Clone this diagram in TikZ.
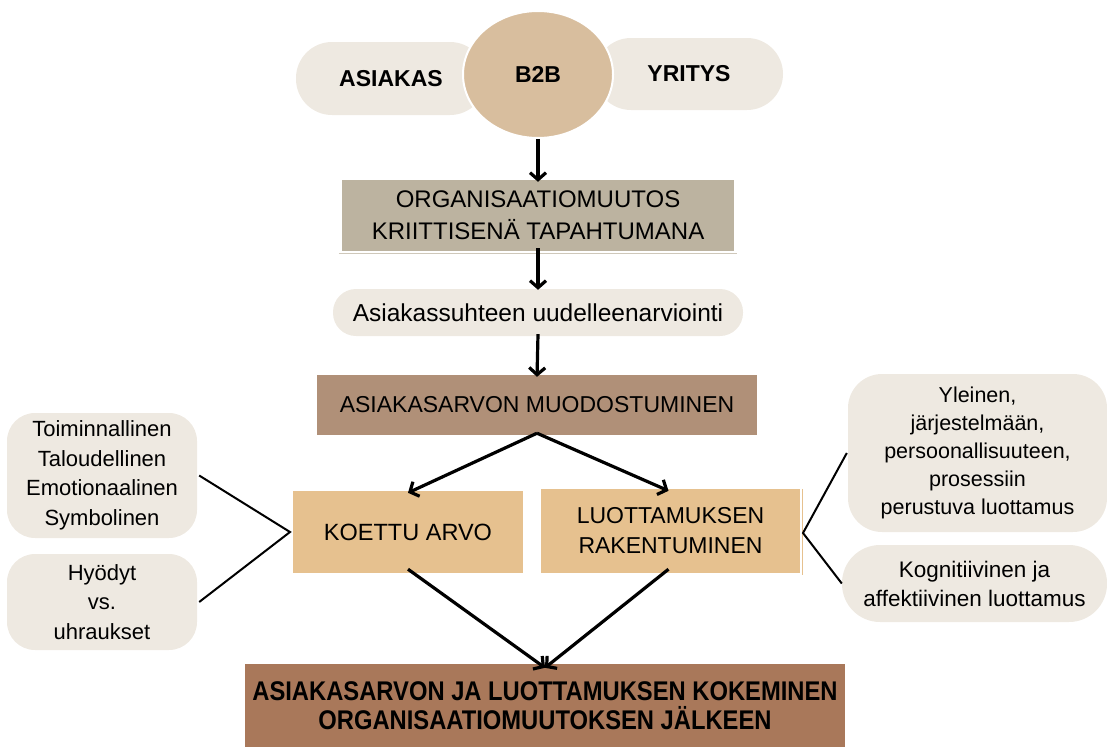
\documentclass[tikz,border=0pt]{standalone}
\usepackage{fontspec}
\setmainfont{Liberation Sans}
\newfontfamily\narrowfont[FakeStretch=0.88]{Liberation Sans}
\usetikzlibrary{arrows.meta,shapes.geometric}
\definecolor{pillc}{HTML}{EEE9E1}
\definecolor{circc}{HTML}{D8BE9E}
\definecolor{orgc}{HTML}{BCB3A0}
\definecolor{muodc}{HTML}{B09078}
\definecolor{koetc}{HTML}{E6C18F}
\definecolor{finc}{HTML}{A9785A}
\definecolor{linec}{HTML}{CFC8BA}
\begin{document}
\begin{tikzpicture}[x=1pt,y=-1pt,
  pill/.style={fill=pillc, rounded corners=#1, inner sep=0pt, align=center},
  plainbox/.style={fill=#1, inner sep=0pt, align=center},
  big/.style={font=\fontsize{23}{30}\selectfont},
  bigbold/.style={font=\bfseries\fontsize{23}{28}\selectfont},
  side/.style={font=\fontsize{22}{29.5}\selectfont},
  rside/.style={font=\fontsize{21.5}{28}\selectfont},
  arr/.style={line width=3.2pt, -{Straight Barb[length=7pt,width=16pt]}},
  conn/.style={line width=2pt}
]
\useasboundingbox (0,0) rectangle (1107,747);

% top row
\node[pill=36pt, minimum width=190pt, minimum height=73pt, bigbold] (asiakas) at (391,78.5) {ASIAKAS};
\node[pill=36pt, minimum width=188pt, minimum height=72pt, bigbold] (yritys) at (689,74) {YRITYS};
\node[ellipse, fill=circc, draw=white, line width=2pt, minimum width=150pt, minimum height=127pt, inner sep=0pt, bigbold] (b2b) at (538,74.5) {B2B};

% main column
\node[plainbox=orgc, minimum width=392pt, minimum height=71pt, big, font=\fontsize{24}{32}\selectfont] (org) at (538,215.5) {ORGANISAATIOMUUTOS\\KRIITTISENÄ TAPAHTUMANA};
\draw[linec, line width=1pt] ([xshift=-3pt,yshift=-2pt]org.south west) -- ([xshift=3pt,yshift=-2pt]org.south east);
\node[pill=23pt, minimum width=410pt, minimum height=47pt, font=\fontsize{24.5}{30}\selectfont] (reev) at (538,312.5) {Asiakassuhteen uudelleenarviointi};
\node[plainbox=muodc, minimum width=440pt, minimum height=60pt, big] (muod) at (537,405) {ASIAKASARVON MUODOSTUMINEN};

\node[plainbox=koetc, minimum width=230pt, minimum height=82pt, font=\fontsize{23.5}{30}\selectfont] (koettu) at (408,532) {KOETTU ARVO};
\node[plainbox=koetc, minimum width=259pt, minimum height=84pt, big] (luott) at (670.5,531) {LUOTTAMUKSEN\\RAKENTUMINEN};
\draw[koetc, line width=1pt] ([xshift=2pt]luott.north east) -- ([xshift=2pt,yshift=-2pt]luott.south east);

\node[plainbox=finc, minimum width=600pt, minimum height=83pt, font=\narrowfont\bfseries\fontsize{27}{29}\selectfont] (fin) at (545,705.5) {ASIAKASARVON JA LUOTTAMUKSEN KOKEMINEN\\ORGANISAATIOMUUTOKSEN JÄLKEEN};

% side boxes
\node[pill=28pt, minimum width=190pt, minimum height=125pt, side] (tl) at (102,475.5) {Toiminnallinen\\Taloudellinen\\Emotionaalinen\\Symbolinen};
\node[pill=28pt, minimum width=190pt, minimum height=96pt, side] (hy) at (102,602) {Hyödyt\\vs.\\uhraukset};
\node[pill=34pt, minimum width=259pt, minimum height=158pt, rside] (yl) at (977.5,453) {Yleinen,\\järjestelmään,\\persoonallisuuteen,\\prosessiin\\perustuva luottamus};
\node[pill=38pt, minimum width=265pt, minimum height=77pt, font=\fontsize{22.5}{29}\selectfont] (kog) at (974.5,583.5) {Kognitiivinen ja\\affektiivinen luottamus};

% connectors
\coordinate (kl) at (290,532);
\coordinate (kr) at (803,533);
\draw[conn] ([xshift=2pt]tl.east) -- (kl) -- ([xshift=2pt]hy.east);
\draw[conn] ([xshift=-1pt]yl.west) -- (kr) -- (kog.west);

% arrows
\draw[arr] (b2b.south) -- ([yshift=-2pt]org.north);
\draw[arr] ([yshift=3pt]org.south) -- ([yshift=-1pt]reev.north);
\draw[arr] ([yshift=2pt]reev.south) -- ([yshift=-2pt]muod.north);
\coordinate (split) at ([yshift=2pt]muod.south);
\draw[arr] (split) -- ([yshift=-2pt]koettu.north);
\draw[arr] (split) -- ([xshift=-2pt,yshift=-2pt]luott.north);
\coordinate (join) at ([yshift=-4pt]fin.north);
\draw[arr] ([yshift=4pt]koettu.south) -- (join);
\draw[arr] ([xshift=-2pt,yshift=4pt]luott.south) -- (join);
\end{tikzpicture}
\end{document}
